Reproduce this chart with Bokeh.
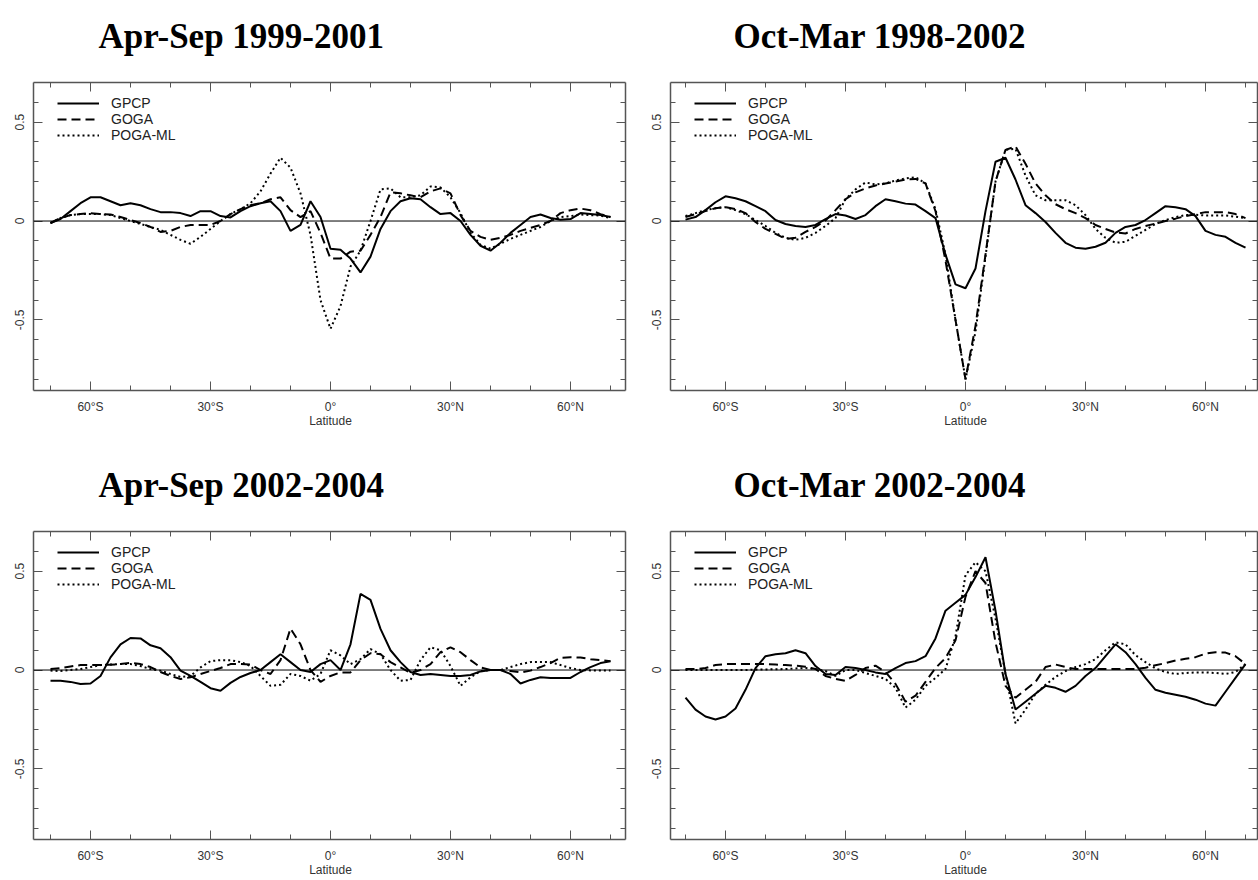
from bokeh.plotting import figure
from bokeh.models import FixedTicker, LinearAxis, Span, Legend, LegendItem, Range1d
from bokeh.layouts import column, row
from bokeh.embed import file_html
from bokeh.resources import INLINE

LAT = [-70, -67.5, -65, -62.5, -60, -57.5, -55, -52.5, -50, -47.5, -45, -42.5, -40, -37.5,
       -35, -32.5, -30, -27.5, -25, -22.5, -20, -17.5, -15, -12.5, -10, -7.5, -5, -2.5,
       0, 2.5, 5, 7.5, 10, 12.5, 15, 17.5, 20, 22.5, 25, 27.5, 30, 32.5, 35, 37.5,
       40, 42.5, 45, 47.5, 50, 52.5, 55, 57.5, 60, 62.5, 65, 67.5, 70]

SERIES = ["GPCP", "GOGA", "POGA-ML"]
TITLES = ["Apr-Sep 1999-2001", "Oct-Mar 1998-2002", "Apr-Sep 2002-2004", "Oct-Mar 2002-2004"]
X_TITLE = "Latitude"

# Apr-Sep 1999-2001
AS99_GPCP = [-0.01, 0.01, 0.05, 0.09, 0.12, 0.12, 0.10, 0.08, 0.09, 0.08, 0.06, 0.045, 0.045, 0.04,
             0.025, 0.05, 0.05, 0.025, 0.018, 0.05, 0.075, 0.09, 0.10, 0.05, -0.05, -0.02, 0.10, 0.02,
             -0.14, -0.145, -0.19, -0.26, -0.18, -0.04, 0.05, 0.10, 0.115, 0.11, 0.07, 0.035, 0.04, 0.0,
             -0.07, -0.125, -0.15, -0.11, -0.06, -0.02, 0.02, 0.033, 0.015, 0.007, 0.01, 0.04, 0.035, 0.03, 0.02]
AS99_GOGA = [-0.01, 0.015, 0.03, 0.035, 0.04, 0.035, 0.033, 0.02, 0.005, -0.01, -0.03, -0.055, -0.05, -0.03,
             -0.02, -0.02, -0.02, 0.0, 0.035, 0.06, 0.08, 0.09, 0.11, 0.12, 0.055, 0.02, 0.05, -0.06,
             -0.19, -0.19, -0.155, -0.15, -0.07, 0.02, 0.145, 0.14, 0.13, 0.12, 0.15, 0.165, 0.14, 0.03,
             -0.05, -0.08, -0.095, -0.085, -0.07, -0.05, -0.035, -0.02, 0.0, 0.04, 0.055, 0.063, 0.055, 0.035, 0.02]
AS99_POGA = [-0.01, 0.015, 0.03, 0.035, 0.035, 0.035, 0.03, 0.015, 0.0, -0.015, -0.03, -0.045, -0.07, -0.095,
             -0.115, -0.08, -0.04, 0.0, 0.035, 0.06, 0.09, 0.15, 0.24, 0.32, 0.27, 0.14, -0.07, -0.4,
             -0.545, -0.43, -0.23, -0.15, 0.0, 0.16, 0.165, 0.12, 0.12, 0.13, 0.175, 0.17, 0.12, 0.04,
             -0.06, -0.12, -0.14, -0.115, -0.09, -0.07, -0.05, -0.03, 0.0, 0.02, 0.025, 0.033, 0.03, 0.028, 0.015]

# Oct-Mar 1998-2002
OM98_GPCP = [0.007, 0.02, 0.055, 0.095, 0.125, 0.115, 0.10, 0.075, 0.05, 0.005, -0.015, -0.025, -0.03, -0.02,
             0.01, 0.035, 0.028, 0.01, 0.03, 0.075, 0.11, 0.10, 0.088, 0.083, 0.05, 0.015, -0.17, -0.32,
             -0.34, -0.24, 0.05, 0.30, 0.32, 0.21, 0.08, 0.04, -0.005, -0.06, -0.11, -0.135, -0.14, -0.13,
             -0.11, -0.06, -0.03, -0.02, 0.005, 0.04, 0.075, 0.07, 0.06, 0.025, -0.05, -0.07, -0.08, -0.11, -0.135]
OM98_GOGA = [0.02, 0.035, 0.05, 0.065, 0.07, 0.06, 0.04, -0.005, -0.04, -0.065, -0.09, -0.085, -0.055, -0.03,
             0.003, 0.055, 0.11, 0.145, 0.165, 0.18, 0.19, 0.20, 0.21, 0.213, 0.19, 0.05, -0.2, -0.5,
             -0.8, -0.53, -0.17, 0.2, 0.36, 0.377, 0.29, 0.19, 0.13, 0.085, 0.06, 0.04, 0.015, -0.02,
             -0.04, -0.058, -0.063, -0.04, -0.025, -0.013, 0.0, 0.012, 0.025, 0.035, 0.045, 0.045, 0.045, 0.035, 0.015]
OM98_POGA = [0.025, 0.04, 0.055, 0.065, 0.07, 0.055, 0.035, 0.005, -0.025, -0.06, -0.085, -0.095, -0.085, -0.06,
             -0.025, 0.015, 0.11, 0.16, 0.195, 0.185, 0.19, 0.205, 0.215, 0.222, 0.19, 0.06, -0.17, -0.5,
             -0.8, -0.56, -0.18, 0.2, 0.36, 0.365, 0.23, 0.13, 0.105, 0.105, 0.105, 0.08, 0.03, -0.04,
             -0.085, -0.11, -0.105, -0.075, -0.045, -0.015, 0.005, 0.02, 0.03, 0.032, 0.028, 0.028, 0.028, 0.022, 0.015]

# Apr-Sep 2002-2004
AS02_GPCP = [-0.054, -0.054, -0.06, -0.071, -0.068, -0.03, 0.064, 0.13, 0.162, 0.16, 0.125, 0.11, 0.065, -0.003,
             -0.03, -0.06, -0.092, -0.105, -0.065, -0.035, -0.015, 0.0, 0.04, 0.08, 0.04, 0.0, -0.01, 0.03,
             0.05, 0.0, 0.13, 0.385, 0.355, 0.208, 0.1, 0.04, -0.01, -0.025, -0.02, -0.025, -0.03, -0.03,
             -0.025, -0.007, 0.0, 0.0, -0.02, -0.068, -0.05, -0.037, -0.04, -0.04, -0.04, -0.01, 0.015, 0.035, 0.044]
AS02_GOGA = [0.005, 0.01, 0.018, 0.025, 0.025, 0.025, 0.027, 0.03, 0.037, 0.03, 0.015, -0.01, -0.03, -0.045,
             -0.037, -0.02, -0.005, 0.01, 0.03, 0.03, 0.028, 0.0, -0.02, 0.05, 0.21, 0.13, 0.0, -0.06,
             -0.03, -0.012, -0.012, 0.05, 0.085, 0.08, 0.04, 0.013, -0.015, 0.0, 0.03, 0.09, 0.115, 0.09,
             0.05, 0.013, 0.0, 0.0, -0.005, -0.012, -0.003, 0.015, 0.035, 0.062, 0.065, 0.063, 0.055, 0.05, 0.045]
AS02_POGA = [-0.003, -0.005, 0.0, 0.005, 0.015, 0.025, 0.028, 0.03, 0.03, 0.02, 0.005, -0.003, -0.02, -0.035,
             -0.03, 0.013, 0.045, 0.05, 0.05, 0.04, 0.02, -0.03, -0.08, -0.075, -0.02, -0.03, -0.054, -0.02,
             0.1, 0.074, 0.03, 0.055, 0.106, 0.08, 0.0, -0.054, -0.05, 0.05, 0.115, 0.1, 0.02, -0.08,
             -0.037, -0.005, 0.0, 0.0, 0.015, 0.03, 0.04, 0.04, 0.04, 0.025, 0.01, 0.0, -0.002, -0.003, -0.003]

# Oct-Mar 2002-2004
OM02_GPCP = [-0.14, -0.2, -0.235, -0.25, -0.235, -0.195, -0.1, 0.01, 0.07, 0.08, 0.085, 0.1, 0.085, 0.02,
             -0.02, -0.025, 0.015, 0.01, 0.0, -0.012, -0.02, 0.01, 0.035, 0.045, 0.07, 0.16, 0.3, 0.34,
             0.38, 0.47, 0.57, 0.3, -0.02, -0.2, -0.16, -0.12, -0.08, -0.09, -0.11, -0.08, -0.03, 0.01,
             0.07, 0.13, 0.09, 0.03, -0.04, -0.1, -0.115, -0.125, -0.135, -0.15, -0.17, -0.18, -0.11, -0.04, 0.03]
OM02_GOGA = [0.005, 0.005, 0.01, 0.025, 0.03, 0.03, 0.03, 0.03, 0.03, 0.028, 0.025, 0.022, 0.017, 0.005,
             -0.03, -0.045, -0.055, -0.025, 0.01, 0.022, -0.01, -0.07, -0.16, -0.13, -0.06, 0.01, 0.06, 0.15,
             0.37, 0.5, 0.44, 0.14, -0.08, -0.14, -0.1, -0.06, 0.015, 0.028, 0.015, 0.005, 0.005, 0.005,
             0.005, 0.005, 0.005, 0.005, 0.012, 0.024, 0.035, 0.048, 0.057, 0.065, 0.083, 0.09, 0.088, 0.07, 0.03]
OM02_POGA = [0.0, 0.0, 0.0, 0.0, 0.0, 0.0, 0.0, 0.002, 0.003, 0.004, 0.005, 0.008, 0.01, 0.005,
             -0.005, -0.03, 0.0, 0.0, -0.015, -0.03, -0.045, -0.09, -0.19, -0.15, -0.08, -0.04, 0.005, 0.17,
             0.48, 0.545, 0.5, 0.26, -0.02, -0.27, -0.2, -0.12, -0.075, -0.035, -0.005, 0.015, 0.03, 0.055,
             0.1, 0.14, 0.13, 0.075, 0.04, 0.008, -0.01, -0.02, -0.015, -0.012, -0.012, -0.015, -0.02, -0.01, 0.03]

PANELS = [
    (AS99_GPCP, AS99_GOGA, AS99_POGA),
    (OM98_GPCP, OM98_GOGA, OM98_POGA),
    (AS02_GPCP, AS02_GOGA, AS02_POGA),
    (OM02_GPCP, OM02_GOGA, OM02_POGA),
]

X_MAJOR = [-60, -30, 0, 30, 60]
X_MINOR = [-70, -60, -50, -40, -30, -20, -10, 0, 10, 20, 30, 40, 50, 60, 70]
X_LABELS = ["60°S", "30°S", "0°\n" + X_TITLE, "30°N", "60°N"]
Y_MAJOR = [-0.5, 0, 0.5]
Y_MINOR = [-0.8, -0.7, -0.6, -0.5, -0.4, -0.3, -0.2, -0.1, 0.0, 0.1, 0.2, 0.3, 0.4, 0.5, 0.6]
Y_LABELS = ["-0.5", "0", "0.5"]

Y_LO, Y_HI = -0.857, 0.7005
FRAME_COL = "#555555"
TXT_COL = "#333333"
DASHES = ["solid", "9 5", "2 3"]


def style_axis(ax):
    ax.axis_line_color = FRAME_COL
    ax.axis_line_width = 1.5
    ax.major_tick_line_color = FRAME_COL
    ax.minor_tick_line_color = FRAME_COL
    ax.major_tick_in = 9
    ax.major_tick_out = 0
    ax.minor_tick_in = 5
    ax.minor_tick_out = 0
    ax.major_label_text_font = "Liberation Sans"
    ax.major_label_text_font_size = "12px"
    ax.major_label_text_color = TXT_COL


def make_title(idx, width, band_h, text_bottom, offset):
    # a frameless strip whose title sits with its lower edge at text_bottom
    t = figure(title=TITLES[idx], frame_width=width, frame_height=band_h - text_bottom,
               x_range=Range1d(0, 1), y_range=Range1d(0, 1),
               min_border_left=0, min_border_right=0,
               min_border_top=text_bottom, min_border_bottom=0,
               x_axis_location=None, y_axis_location=None,
               output_backend="svg", toolbar_location=None)
    t.xgrid.visible = False
    t.ygrid.visible = False
    t.outline_line_color = None
    t.title.text_font = "Liberation Serif"
    t.title.text_font_size = "35px"
    t.title.text_font_style = "bold"
    t.title.text_color = "black"
    t.title.align = "left"
    t.title.offset = offset
    t.title.standoff = 0
    t.title.vertical_align = "bottom"
    return t


def make_panel(idx, frame_w, x_start, top, bottom, right):
    gpcp, goga, poga = PANELS[idx]
    p = figure(frame_width=frame_w, frame_height=308,
               min_border_left=33, min_border_right=right,
               min_border_top=top, min_border_bottom=bottom,
               x_range=Range1d(x_start, x_start + frame_w / 4.0),
               y_range=Range1d(Y_LO, Y_HI),
               output_backend="svg", toolbar_location=None)
    p.xgrid.visible = False
    p.ygrid.visible = False
    p.outline_line_color = None

    xa = p.xaxis[0]
    xa.ticker = FixedTicker(ticks=X_MAJOR, minor_ticks=X_MINOR)
    xa.major_label_overrides = {t: l for t, l in zip(X_MAJOR, X_LABELS)}
    style_axis(xa)
    xa.major_label_standoff = 9
    xa.major_label_text_line_height = 1.05

    ya = p.yaxis[0]
    ya.ticker = FixedTicker(ticks=Y_MAJOR, minor_ticks=Y_MINOR)
    ya.major_label_overrides = {t: l for t, l in zip(Y_MAJOR, Y_LABELS)}
    style_axis(ya)
    ya.major_label_orientation = "vertical"
    ya.major_label_standoff = 9

    top_ax = LinearAxis(ticker=FixedTicker(ticks=X_MAJOR, minor_ticks=X_MINOR),
                        major_label_overrides={t: "" for t in X_MAJOR})
    style_axis(top_ax)
    top_ax.major_label_standoff = 0
    top_ax.major_label_text_font_size = "1px"
    p.add_layout(top_ax, "above")

    right_ax = LinearAxis(ticker=FixedTicker(ticks=Y_MAJOR, minor_ticks=Y_MINOR),
                          major_label_overrides={t: "" for t in Y_MAJOR})
    style_axis(right_ax)
    right_ax.major_label_standoff = 0
    right_ax.major_label_text_font_size = "1px"
    p.add_layout(right_ax, "right")

    p.add_layout(Span(location=0, dimension="width", line_color="black", line_width=1))

    renderers = []
    for vals, dash in zip((gpcp, goga, poga), DASHES):
        r = p.line(LAT, vals, line_color="black", line_width=2, line_dash=dash)
        renderers.append(r)

    leg = Legend(items=[LegendItem(label=n, renderers=[r]) for n, r in zip(SERIES, renderers)],
                 location=(24, 247), orientation="vertical",
                 glyph_width=42, glyph_height=16, label_height=16, spacing=0,
                 padding=0, margin=0, label_standoff=12,
                 label_text_font="Liberation Sans", label_text_font_size="14px",
                 label_text_color="#222222",
                 border_line_alpha=0, background_fill_alpha=0)
    p.add_layout(leg)
    return p


# top row: title strip 70 px, frame top at 82
t1 = make_title(0, 637, 70, 55, 65)
t2 = make_title(1, 621, 70, 55, 63)
p1 = make_panel(0, 592, -74.25, 12, 40, 12)
p2 = make_panel(1, 587, -73.75, 12, 40, 1)
# bottom row: title strip 74 px, frame top at 531
t3 = make_title(2, 637, 74, 73, 65)
t4 = make_title(3, 621, 74, 73, 63)
p3 = make_panel(2, 592, -74.25, 26, 40, 12)
p4 = make_panel(3, 587, -73.75, 26, 40, 1)

layout = column(row(column(t1, p1), column(t2, p2)),
                row(column(t3, p3), column(t4, p4)))
open("out.html", "w").write(file_html(layout, INLINE))
